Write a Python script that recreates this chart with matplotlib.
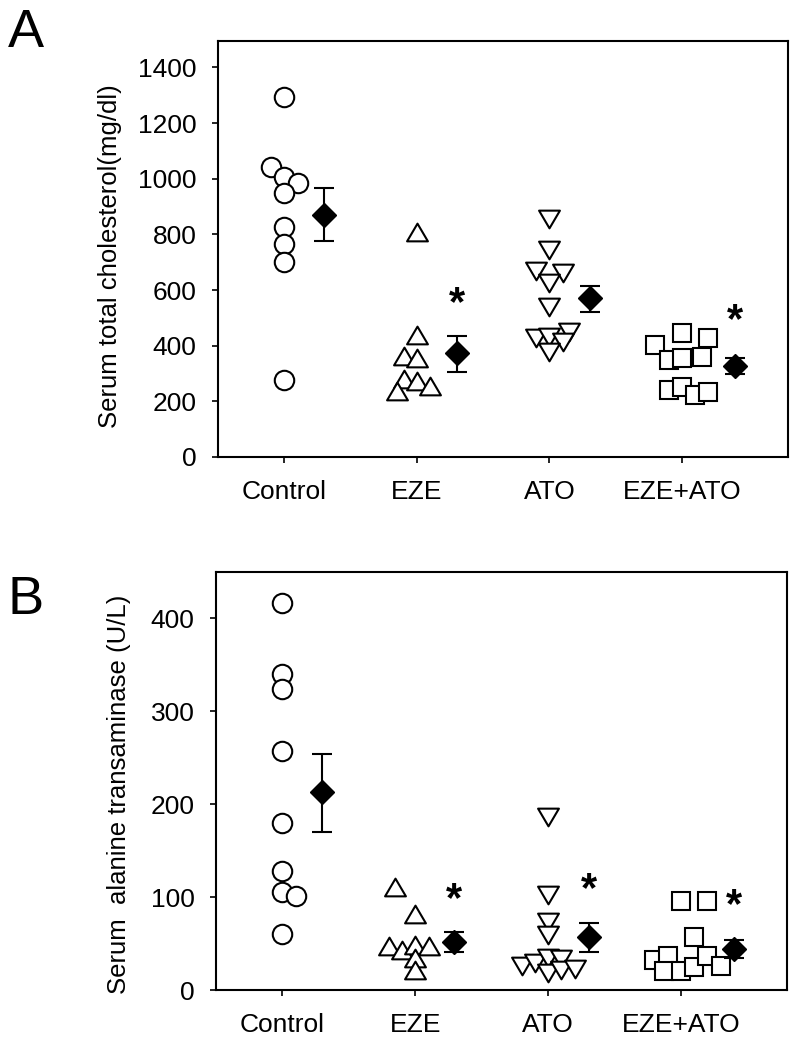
import numpy as np
import matplotlib
matplotlib.use("Agg")
import matplotlib.pyplot as plt
from matplotlib.path import Path

plt.rcParams['font.family'] = ['Liberation Sans', 'DejaVu Sans']

groups = ["Control", "EZE", "ATO", "EZE+ATO"]

# Panel A: serum total cholesterol (mg/dl)
chol_control = [1295, 1043, 1006, 983, 947, 827, 767, 701, 276]
chol_eze = [809, 438, 363, 354, 282, 274, 256, 238]
chol_ato = [857, 743, 669, 660, 626, 540, 426, 432, 450, 414, 378]
chol_combo = [402, 446, 428, 348, 354, 358, 240, 252, 223, 234]
chol_mean = [871, 372, 570, 328]
chol_err_hi = [965, 434, 614, 354]
chol_err_lo = [778, 304, 520, 300]
chol_star = [None, 548, None, 490]

# Panel B: serum alanine transaminase (U/L)
alt_control = [417, 340, 324, 257, 180, 128, 105, 101, 60]
alt_eze = [111, 82, 47, 43, 48, 47, 34, 22]
alt_ato = [186, 102, 73, 59, 26, 29, 34, 33, 18, 22, 23]
alt_combo = [96, 96, 57, 32, 37, 21, 21, 25, 37, 26]
alt_mean = [213, 52, 57, 44]
alt_err_hi = [254, 62, 72, 54]
alt_err_lo = [170, 41, 41, 35]
alt_star = [None, 97, 108, 90]

# horizontal scatter of the individual points (in category units)
jit_a = [
    [0, -0.10, 0, 0.10, 0, 0, 0, 0, 0],
    [0, 0, -0.10, 0, -0.10, 0, 0.10, -0.15],
    [0, 0, -0.10, 0.10, 0, 0, -0.10, 0, 0.15, 0.10, 0],
    [-0.20, 0, 0.20, -0.10, 0, 0.15, -0.10, 0, 0.10, 0.20],
]
jit_b = [
    [0, 0, 0, 0, 0, 0, 0, 0.10, 0],
    [-0.15, 0, -0.20, -0.10, 0, 0.10, 0, 0],
    [0, 0, 0, 0, -0.20, -0.10, 0, 0.10, 0, 0.10, 0.20],
    [0, 0.20, 0.10, -0.20, -0.10, -0.13, 0, 0.10, 0.20, 0.30],
]
mean_off_a = [0.30, 0.30, 0.31, 0.40]
mean_off_b = [0.30, 0.29, 0.31, 0.40]

# slightly flattened triangles, closed so the outline is complete
tri_up = Path([(0, 0.85), (-1, -0.85), (1, -0.85), (0, 0.85)], closed=True)
tri_dn = Path([(0, -0.85), (-1, 0.85), (1, 0.85), (0, -0.85)], closed=True)
markers = ['o', tri_up, tri_dn, 's']
msizes = [14, 15, 15, 12.5]


def draw_panel(ax, series, jit, mean, hi, lo, stars, off, ylim, yticks, ylabel):
    for i, vals in enumerate(series):
        xs = np.full(len(vals), i + 1.0) + np.array(jit[i])
        ax.plot(xs, vals, linestyle='none', marker=markers[i], ms=msizes[i],
                mfc='white', mec='black', mew=1.5, zorder=3)
    xm = np.arange(1, 5) + np.array(off)
    mean = np.array(mean)
    yerr = [mean - np.array(lo), np.array(hi) - mean]
    ax.errorbar(xm, mean, yerr=yerr, fmt='D', ms=12, mfc='black', mec='black',
                ecolor='black', elinewidth=1.5, capsize=7, capthick=1.5, zorder=4)
    for x, s in zip(xm, stars):
        if s is not None:
            ax.text(x, s, "*", ha='center', va='center', fontsize=30,
                    fontweight='bold')
    ax.set_xlim(0.5, 4.8)
    ax.set_ylim(*ylim)
    ax.set_yticks(yticks)
    ax.set_xticks([1, 2, 3, 4])
    ax.set_xticklabels(groups)
    ax.tick_params(direction='out', length=4.5, width=1.2, labelsize=19)
    ax.tick_params(axis='y', pad=11)
    ax.tick_params(axis='x', pad=12)
    ax.tick_params(top=False, right=False)
    for sp in ax.spines.values():
        sp.set_linewidth(1.5)
    ax.set_ylabel(ylabel, fontsize=18.5)


fig = plt.figure(figsize=(8, 10.46), dpi=100)
ax1 = fig.add_axes([0.2725, 0.5631, 0.7125, 0.3977])
ax2 = fig.add_axes([0.27, 0.0535, 0.714, 0.3997])

draw_panel(ax1, [chol_control, chol_eze, chol_ato, chol_combo], jit_a,
           chol_mean, chol_err_hi, chol_err_lo, chol_star, mean_off_a,
           (0, 1495), np.arange(0, 1401, 200), "Serum total cholesterol(mg/dl)")
draw_panel(ax2, [alt_control, alt_eze, alt_ato, alt_combo], jit_b,
           alt_mean, alt_err_hi, alt_err_lo, alt_star, mean_off_b,
           (0, 450), np.arange(0, 401, 100), "Serum  alanine transaminase (U/L)")

ax1.yaxis.set_label_coords(-0.168, 0.483)
ax2.yaxis.set_label_coords(-0.148, 0.467)

fig.text(8 / 800, 1 - 8 / 1046, "A", fontsize=39, ha='left', va='top')
fig.text(8 / 800, 1 - 575 / 1046, "B", fontsize=39, ha='left', va='top')

fig.savefig("out.png", dpi=100)
